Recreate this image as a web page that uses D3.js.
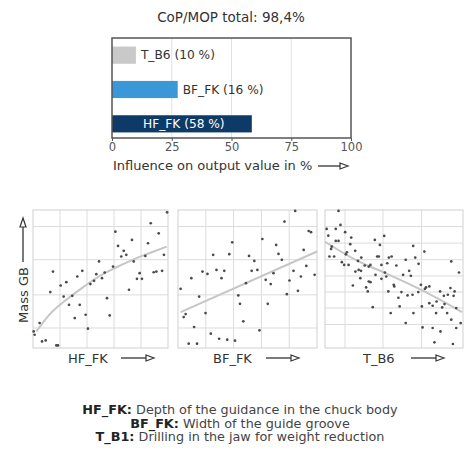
<!DOCTYPE html>
<html><head><meta charset="utf-8">
<script src="https://cdn.jsdelivr.net/npm/d3@7"></script>
<style>
html,body{margin:0;padding:0;background:#fff;}
svg{display:block;font-family:"DejaVu Sans",Verdana,sans-serif;}
</style></head>
<body>
<svg id="chart" width="474" height="452"></svg>
<script>
// ---- data ----
const title = "CoP/MOP total: 98,4%";
const barCats = ["T_B6", "BF_FK", "HF_FK"];
const barValues = [10, 27.5, 58.5];
const barLabels = ["T_B6 (10 %)", "BF_FK (16 %)", "HF_FK (58 %)"];
const barTicks = [0, 25, 50, 75, 100];
const barAxisTitle = "Influence on output value in %";

const panelNames = ["HF_FK", "BF_FK", "T_B6"];
const yAxisTitle = "Mass GB";

const hfPoints = [[99.3,98.3],[87.2,90.4],[93.1,83.1],[61.0,84.3],[85.2,75.9],[73.3,78.3],[63.0,74.0],[67.2,70.4],[65.4,66.3],[69.1,67.5],[83.2,66.7],[97.0,67.5],[74.6,62.7],[48.9,62.7],[59.3,59.0],[14.8,55.4],[36.5,55.9],[32.8,51.8],[46.9,53.5],[53.1,54.7],[51.1,50.6],[45.2,48.7],[42.5,46.3],[24.7,47.7],[20.5,45.3],[12.8,40.5],[29.1,37.8],[22.7,37.3],[54.8,36.1],[79.0,54.2],[77.0,50.1],[80.7,50.1],[89.4,54.9],[91.4,55.4],[95.6,55.9],[71.1,42.2],[26.7,31.3],[34.6,31.3],[30.9,21.7],[39.0,24.1],[56.8,23.6],[40.7,14.0],[4.9,18.1],[0.5,12.0],[6.7,4.8],[9.4,5.5],[17.3,1.9],[18.5,1.9],[1.2,9.6]];
const hfTrend = [[2.5,12],[12,24],[24.7,35],[37,44],[49,52],[62,58.5],[74,64],[87,69],[99,73.5]];

const bfPoints = [[84.3,99.3],[76.6,91.6],[94.0,84.8],[95.7,83.9],[60.7,79.0],[39.0,76.6],[70.6,74.7],[90.4,71.1],[25.3,67.5],[36.9,68.0],[51.1,66.7],[72.3,68.2],[74.7,63.9],[54.9,63.1],[92.3,59.5],[83.1,55.9],[9.6,50.6],[17.6,55.4],[21.2,53.7],[27.7,56.6],[33.3,55.9],[31.3,50.6],[53.0,55.9],[57.1,56.6],[68.7,54.2],[98.3,53.0],[88.4,51.8],[80.2,48.9],[63.1,49.4],[48.9,47.0],[66.7,46.3],[1.9,42.9],[86.3,41.4],[78.3,39.0],[15.2,37.3],[43.4,38.1],[44.6,32.0],[64.6,32.0],[19.8,25.3],[5.5,24.6],[4.1,22.4],[47.0,19.3],[11.6,15.2],[58.6,12.8],[23.6,10.4],[29.6,6.7],[35.4,6.0],[41.0,5.3],[7.7,3.1],[13.7,3.1]];
const bfTrend = [[1.9,26],[100,69.9]];

const tbPoints = [[9.8,99.3],[1.2,86.3],[7.8,86.3],[11.2,89.2],[14.6,83.9],[2.4,81.4],[7.8,77.6],[9.8,77.6],[19.0,80.0],[4.9,73.5],[4.4,71.8],[18.3,75.2],[15.9,69.4],[3.2,66.3],[6.6,66.3],[15.1,67.9],[21.9,70.4],[12.2,62.2],[13.9,60.2],[17.1,60.2],[23.9,63.1],[26.3,65.5],[36.1,78.3],[39.8,74.7],[42.9,81.2],[37.8,66.3],[39.0,66.3],[46.3,65.5],[48.3,66.3],[28.8,59.8],[31.7,59.0],[32.9,60.2],[24.4,56.6],[22.0,55.4],[26.1,55.9],[25.6,50.6],[20.2,45.3],[31.7,48.2],[32.9,47.7],[29.8,43.9],[31.0,41.0],[40.9,60.2],[36.6,53.0],[43.4,54.7],[44.4,51.8],[40.9,50.1],[51.7,59.8],[56.6,53.0],[61.0,55.9],[62.2,52.3],[63.9,74.0],[65.4,65.5],[72.0,69.9],[58.5,63.9],[67.8,61.0],[49.8,45.8],[50.2,44.6],[45.9,41.0],[55.4,40.5],[53.2,36.4],[59.8,38.1],[63.4,38.6],[67.6,40.5],[69.5,45.8],[73.2,43.9],[75.6,44.6],[72.4,42.9],[34.6,29.6],[47.6,25.3],[54.1,30.1],[64.1,25.3],[58.5,18.1],[70.2,30.1],[75.6,32.5],[80.9,33.7],[83.4,41.0],[86.1,37.8],[89.0,38.6],[90.9,43.4],[93.9,41.0],[93.2,37.8],[91.5,62.7],[97.1,54.7],[78.0,30.6],[84.9,29.4],[86.6,31.8],[80.5,25.3],[88.5,25.3],[95.1,28.9],[70.7,14.9],[78.0,14.5],[83.7,12.0],[91.5,20.5],[98.3,18.1],[95.1,14.5],[79.3,4.1],[92.7,2.9],[45.1,61.4]];
const tbTrend = [[0,77],[24.4,62.7],[43.9,54.2],[72,41],[99.3,26]];

const gridX1 = [20, 40, 60, 80];
const gridY1 = [14.5, 38.5, 64, 88];
const gridX3 = [14.5, 42, 70];
const gridY3 = [17, 29, 40.6, 52.2, 64, 76, 88];

const legendKeys = ["HF_FK:", "BF_FK:", "T_B1:"];
const legendTexts = [" Depth of the guidance in the chuck body", " Width of the guide groove", " Drilling in the jaw for weight reduction"];

// ---- drawing ----
const svg = d3.select("#chart");
const textCol = "#333";

svg.append("text").attr("x", 231).attr("y", 22).attr("text-anchor", "middle")
  .attr("font-size", 13.5).attr("fill", textCol).text(title);

// bar chart
const bx = d3.scaleLinear().domain([0, 100]).range([112, 351]);
const by = d3.scaleBand().domain(barCats).range([38, 141]).paddingInner(0.5).paddingOuter(0.25);
const barCols = ["#c9c9c9", "#3a98d9", "#0e3a68"];
const gB = svg.append("g");
gB.selectAll("line.grid").data(barTicks.slice(1, 4)).join("line")
  .attr("x1", d => bx(d)).attr("x2", d => bx(d)).attr("y1", 38).attr("y2", 138)
  .attr("stroke", "#e2e2e2").attr("stroke-width", 1);
gB.selectAll("rect.bar").data(barCats).join("rect")
  .attr("x", bx(0)).attr("y", d => by(d))
  .attr("width", (d, i) => bx(barValues[i]) - bx(0)).attr("height", by.bandwidth())
  .attr("fill", (d, i) => barCols[i]);
gB.append("rect").attr("x", 112).attr("y", 38).attr("width", 239).attr("height", 100)
  .attr("fill", "none").attr("stroke", "#555").attr("stroke-width", 1.5);
gB.selectAll("text.lab").data(barCats).join("text")
  .attr("x", (d, i) => i === 2 ? bx(0) + 31 : bx(barValues[i]) + 5)
  .attr("y", d => by(d) + by.bandwidth() / 2 + 4)
  .attr("font-size", 12.2).attr("fill", (d, i) => i === 2 ? "#fff" : textCol)
  .text((d, i) => barLabels[i]);
const axB = d3.axisBottom(bx).tickValues(barTicks).tickSize(3).tickFormat(d3.format("d"));
const gAx = gB.append("g").attr("transform", "translate(0,138)").call(axB);
gAx.select(".domain").remove();
gAx.selectAll("line").attr("stroke", "#555");
gAx.selectAll("text").attr("font-size", 11.5).attr("fill", "#555").attr("font-family", "DejaVu Sans").attr("dy", "0.6em");
svg.append("text").attr("x", 113).attr("y", 170).attr("font-size", 13).attr("fill", textCol).text(barAxisTitle);

function hArrow(x, y, len) {
  svg.append("line").attr("x1", x).attr("x2", x + len - 7).attr("y1", y).attr("y2", y)
    .attr("stroke", textCol).attr("stroke-width", 1.3);
  svg.append("path").attr("d", `M${x+len-8},${y-3}L${x+len},${y}L${x+len-8},${y+3}Z`)
    .attr("fill", "#fff").attr("stroke", textCol).attr("stroke-width", 1.2);
}
hArrow(318, 166, 30);

// scatter panels
const panels = [
  {x0: 33, x1: 168, pts: hfPoints, trend: hfTrend, gx: gridX1, gy: gridY1, name: panelNames[0], lx: 68, ax: 121},
  {x0: 178, x1: 317, pts: bfPoints, trend: bfTrend, gx: gridX1, gy: gridY1, name: panelNames[1], lx: 213, ax: 266},
  {x0: 325, x1: 463, pts: tbPoints, trend: tbTrend, gx: gridX3, gy: gridY3, name: panelNames[2], lx: 363, ax: 411}
];
const pTop = 210, pBot = 348;
panels.forEach(p => {
  const sx = d3.scaleLinear().domain([0, 100]).range([p.x0, p.x1]);
  const sy = d3.scaleLinear().domain([0, 100]).range([pBot, pTop]);
  const g = svg.append("g");
  g.selectAll("line.gx").data(p.gx).join("line")
    .attr("x1", d => sx(d)).attr("x2", d => sx(d)).attr("y1", pTop).attr("y2", pBot)
    .attr("stroke", "#dcdcdc").attr("stroke-width", 1);
  g.selectAll("line.gy").data(p.gy).join("line")
    .attr("y1", d => sy(d)).attr("y2", d => sy(d)).attr("x1", p.x0).attr("x2", p.x1)
    .attr("stroke", "#dcdcdc").attr("stroke-width", 1);
  g.append("rect").attr("x", p.x0).attr("y", pTop).attr("width", p.x1 - p.x0).attr("height", pBot - pTop)
    .attr("fill", "none").attr("stroke", "#d0d0d0").attr("stroke-width", 1);
  g.append("path").datum(p.trend)
    .attr("d", d3.line().x(d => sx(d[0])).y(d => sy(d[1])).curve(d3.curveMonotoneX))
    .attr("fill", "none").attr("stroke", "#c6c6c6").attr("stroke-width", 2);
  g.selectAll("circle").data(p.pts).join("circle")
    .attr("cx", d => sx(d[0])).attr("cy", d => sy(d[1])).attr("r", 1.35)
    .attr("fill", "#4a4a4a");
  svg.append("text").attr("x", p.lx).attr("y", 363).attr("font-size", 13).attr("fill", textCol).text(p.name);
  hArrow(p.ax, 358, 33);
});

// y-axis title with up arrow
svg.append("text").attr("transform", "translate(28,295) rotate(-90)").attr("text-anchor", "middle")
  .attr("font-size", 13).attr("fill", textCol).text(yAxisTitle);
svg.append("line").attr("x1", 23).attr("x2", 23).attr("y1", 262).attr("y2", 226)
  .attr("stroke", textCol).attr("stroke-width", 1.3);
svg.append("path").attr("d", "M20,227L23,218L26,227Z").attr("fill", "#fff").attr("stroke", textCol).attr("stroke-width", 1.2);

// legend footer
legendKeys.forEach((k, i) => {
  const t = svg.append("text").attr("x", 240).attr("y", 414 + i * 13.5).attr("text-anchor", "middle")
    .attr("font-size", 12.8).attr("fill", "#222");
  t.append("tspan").attr("font-weight", "bold").text(k);
  t.append("tspan").attr("fill", "#444").text(legendTexts[i]);
});
</script>
</body></html>
